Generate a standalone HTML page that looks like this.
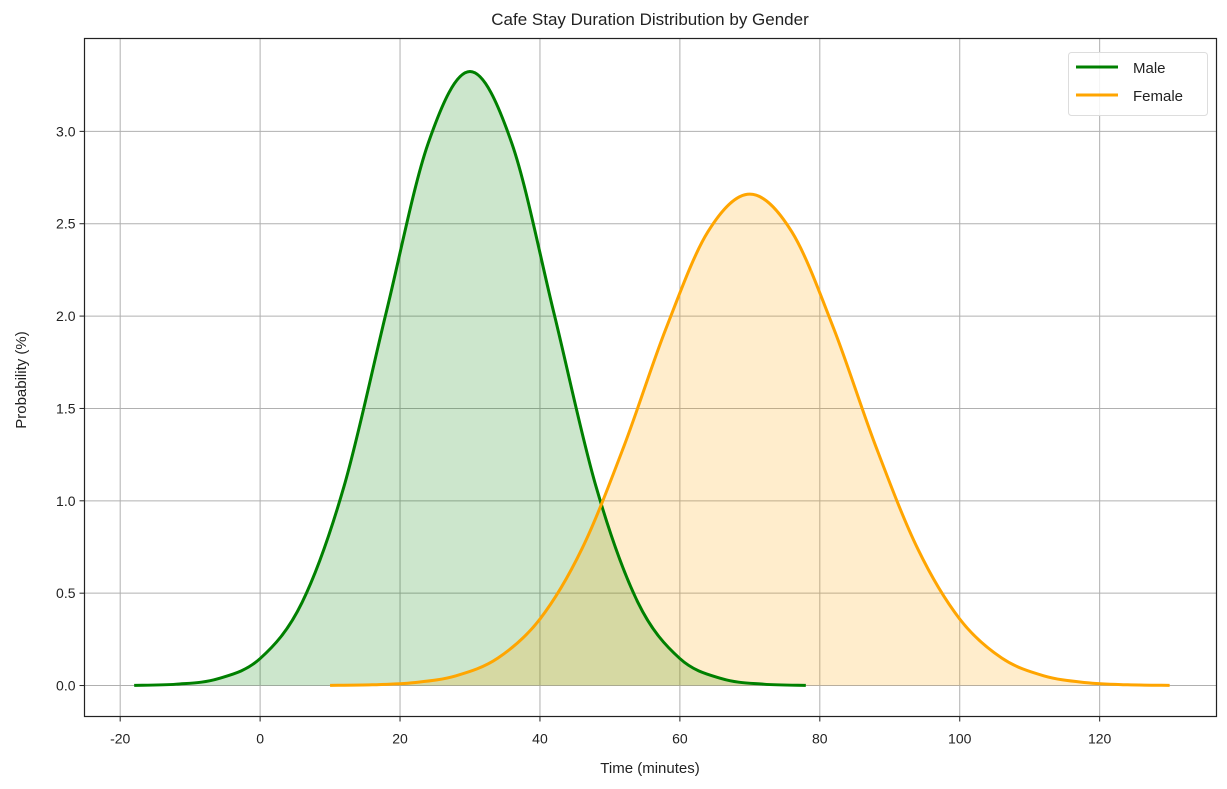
<!DOCTYPE html>
<html><head><meta charset="utf-8">
<style>
body{margin:0;background:#fff;width:1227px;height:784px;overflow:hidden;font-family:"Liberation Sans","DejaVu Sans",sans-serif;}
svg text{font-family:"Liberation Sans","DejaVu Sans",sans-serif;fill:#222;}
</style></head>
<body>
<svg id="chart" width="1227" height="784" xmlns="http://www.w3.org/2000/svg">
<text x="650" y="25" text-anchor="middle" font-size="17">Cafe Stay Duration Distribution by Gender</text>
<g id="grid"></g>
<g id="fills"></g>
<g id="lines"></g>
<rect x="84.5" y="38.5" width="1132" height="678" fill="none" stroke="#222" stroke-width="1.2"/>
<g id="ticks"></g>
<text x="650" y="773" text-anchor="middle" font-size="15">Time (minutes)</text>
<text transform="translate(26,380) rotate(-90)" text-anchor="middle" font-size="15">Probability (%)</text>
<g>
<rect x="1068.5" y="52.5" width="139" height="63" rx="3" fill="#fff" fill-opacity="0.85" stroke="#ddd"/>
<line x1="1076" y1="67" x2="1118" y2="67" stroke="#008000" stroke-width="3"/>
<text x="1133" y="73" font-size="15">Male</text>
<line x1="1076" y1="95" x2="1118" y2="95" stroke="#FFA500" stroke-width="3"/>
<text x="1133" y="101" font-size="15">Female</text>
</g>
</svg>
<script>
const xTicks=[-20,0,20,40,60,80,100,120];
const yTicks=[0.0,0.5,1.0,1.5,2.0,2.5,3.0];
const maleX=[-18,-12,-6,0,6,12,18,24,30,36,42,48,54,60,66,72,78];
const maleY=[0.0011,0.0073,0.0369,0.146,0.450,1.079,2.016,2.933,3.324,2.933,2.016,1.079,0.450,0.146,0.0369,0.0073,0.0011];
const femaleX=[10,16,22,28,34,40,46,52,58,64,70,76,82,88,94,100,106,112,118,124,130];
const femaleY=[0.0009,0.0041,0.0159,0.0528,0.149,0.360,0.740,1.295,1.931,2.456,2.660,2.456,1.931,1.295,0.740,0.360,0.149,0.0528,0.0159,0.0041,0.0009];

const L=84.5,R=1216.5,T=38.5,B=716.5;
const xMin=-25.1,xMax=136.7,yMin=-0.1676,yMax=3.5027;
const sx=v=>L+(v-xMin)/(xMax-xMin)*(R-L);
const sy=v=>B-(v-yMin)/(yMax-yMin)*(B-T);
const NS="http://www.w3.org/2000/svg";
function mk(tag,attrs,parent){const e=document.createElementNS(NS,tag);for(const k in attrs)e.setAttribute(k,attrs[k]);parent.appendChild(e);return e;}
const grid=document.getElementById('grid'),ticks=document.getElementById('ticks');
xTicks.forEach(v=>{
  const x=sx(v);
  const g=mk('line',{x1:x,y1:T,x2:x,y2:B,stroke:'#b0b0b0','stroke-width':1},grid);
  
  
  const t=mk('line',{x1:x,y1:B,x2:x,y2:B+5,stroke:'#222'},ticks);
  
  
  const lb=mk('text',{x:x,y:B+27,'text-anchor':'middle','font-size':14},ticks);
  lb.textContent=String(v);
  
  
});
yTicks.forEach(v=>{
  const y=sy(v);
  const g=mk('line',{x1:L,y1:y,x2:R,y2:y,stroke:'#b0b0b0','stroke-width':1},grid);
  
  
  const t=mk('line',{x1:L-5,y1:y,x2:L,y2:y,stroke:'#222'},ticks);
  
  
  const lb=mk('text',{x:L-9,y:y+5,'text-anchor':'end','font-size':14},ticks);
  lb.textContent=v.toFixed(1);
  
  
});
function smooth(xs,ys){
  const p=xs.map((x,i)=>[sx(x),sy(ys[i])]);
  let d='M'+p[0][0]+','+p[0][1];
  for(let i=0;i<p.length-1;i++){
    const p0=p[Math.max(0,i-1)],p1=p[i],p2=p[i+1],p3=p[Math.min(p.length-1,i+2)];
    const c1=[p1[0]+(p2[0]-p0[0])/6,p1[1]+(p2[1]-p0[1])/6];
    const c2=[p2[0]-(p3[0]-p1[0])/6,p2[1]-(p3[1]-p1[1])/6];
    d+=' C'+c1[0]+','+c1[1]+' '+c2[0]+','+c2[1]+' '+p2[0]+','+p2[1];
  }
  return d;
}
function series(xs,ys,color,name){
  const d=smooth(xs,ys);
  const f=mk('path',{d:d+' L'+sx(xs[xs.length-1])+','+sy(0)+' L'+sx(xs[0])+','+sy(0)+' Z',fill:color,'fill-opacity':0.2,stroke:'none'},document.getElementById('fills'));
  
  
  const l=mk('path',{d:d,fill:'none',stroke:color,'stroke-width':3,'stroke-linejoin':'round'},document.getElementById('lines'));
  
  
}
series(maleX,maleY,'#008000','male');
series(femaleX,femaleY,'#FFA500','female');
</script>
</body></html>
